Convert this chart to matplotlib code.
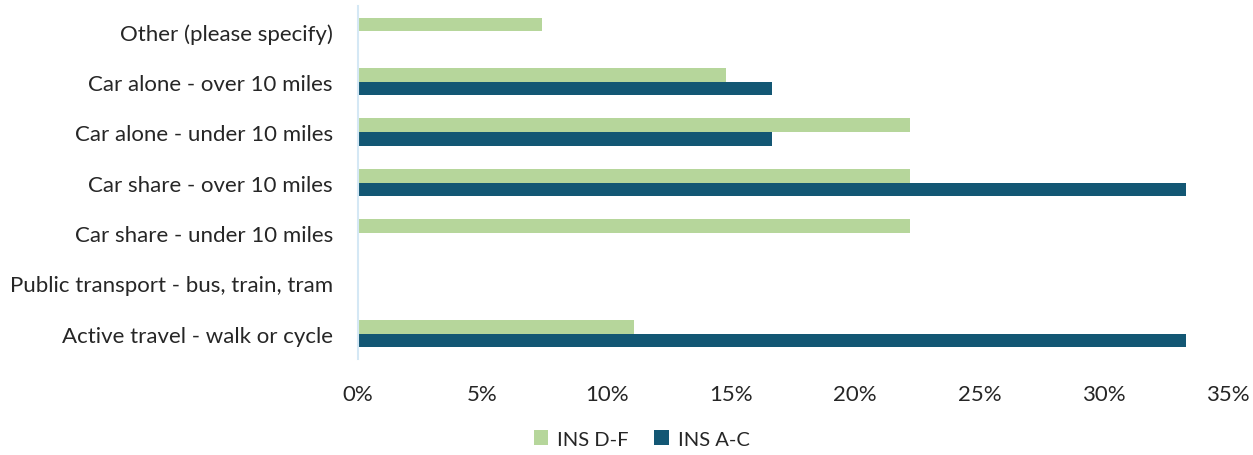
import numpy as np
import matplotlib.pyplot as plt
from matplotlib.ticker import PercentFormatter

plt.rcParams['font.family'] = ['Lato', 'DejaVu Sans']

# categories listed bottom to top
categories = [
    "Active travel - walk or cycle",
    "Public transport - bus, train, tram",
    "Car share - under 10 miles",
    "Car share - over 10 miles",
    "Car alone - under 10 miles",
    "Car alone - over 10 miles",
    "Other (please specify)",
]
ins_df = [11.11, 0.0, 22.22, 22.22, 22.22, 14.81, 7.41]
ins_ac = [33.33, 0.0, 0.0, 33.33, 16.67, 16.67, 0.0]

green = "#b6d69b"
navy = "#135774"

fig = plt.figure(figsize=(12.53, 4.56), dpi=100)
ax = fig.add_axes([358 / 1253, 1 - 360 / 456, (1228 - 358) / 1253, (360 - 7) / 456])

y = np.arange(len(categories))
h = 0.27
ax.barh(y + h / 2, ins_df, height=h, color=green, label="INS D-F")
ax.barh(y - h / 2, ins_ac, height=h, color=navy, label="INS A-C")

ax.set_xlim(0, 35)
ax.set_ylim(-0.5, len(categories) - 0.5)
ax.set_xticks(np.arange(0, 36, 5))
ax.xaxis.set_major_formatter(PercentFormatter(decimals=0))
ax.set_yticks(y)
ax.set_yticklabels(categories)
ax.tick_params(axis='both', length=0, labelsize=16, colors="#262626")
ax.tick_params(axis='x', pad=18)
ax.tick_params(axis='y', pad=18)

for side in ("top", "right", "bottom"):
    ax.spines[side].set_visible(False)
ax.spines["left"].set_color("#d5e8f5")
ax.spines["left"].set_linewidth(1.5)

ax.legend(loc="center", bbox_to_anchor=(0.512, 0.035), bbox_transform=fig.transFigure,
          ncol=2, frameon=False, fontsize=14.5, handlelength=0.7, handleheight=0.7,
          columnspacing=1.3, handletextpad=0.45, labelcolor="#262626")

fig.savefig("out.png", dpi=100)
